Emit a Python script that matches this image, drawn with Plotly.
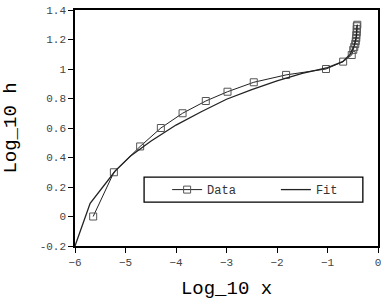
import plotly.graph_objects as go

data_x = [-5.64, -5.23, -4.71, -4.30, -3.87, -3.41, -2.98, -2.46, -1.82, -1.03, -0.69, -0.52, -0.49,
          -0.47, -0.45, -0.44, -0.43, -0.43, -0.42, -0.42, -0.42, -0.41]
data_y = [0.0, 0.30, 0.475, 0.60, 0.70, 0.783, 0.846, 0.91, 0.96, 1.0, 1.05, 1.095, 1.13,
          1.15, 1.17, 1.19, 1.21, 1.23, 1.25, 1.27, 1.29, 1.30]

fit_x = [-6.0, -5.7, -5.2, -4.9, -4.5, -4.0, -3.5, -3.0, -2.5, -2.0, -1.5, -1.0, -0.7, -0.55, -0.47, -0.43, -0.41]
fit_y = [-0.2, 0.09, 0.31, 0.41, 0.51, 0.62, 0.71, 0.795, 0.86, 0.92, 0.97, 1.01, 1.05, 1.10, 1.16, 1.22, 1.30]

x_ticks = [-6, -5, -4, -3, -2, -1, 0]
y_ticks = [-0.2, 0, 0.2, 0.4, 0.6, 0.8, 1, 1.2, 1.4]
y_tick_labels = ["-0.2", "0", "0.2", "0.4", "0.6", "0.8", "1", "1.2", "1.4"]

fig = go.Figure()
fig.add_trace(go.Scatter(x=data_x, y=data_y, mode="lines+markers", name="Data", legend="legend",
                         line=dict(color="#222", width=1),
                         marker=dict(symbol="square-open", size=7, color="#555", line=dict(width=1))))
fig.add_trace(go.Scatter(x=fit_x, y=fit_y, mode="lines", name="Fit", legend="legend2",
                         line=dict(color="#222", width=1.3)))

mono = "Liberation Mono, Courier New, monospace"
leg_font = dict(family=mono, size=12, color="#333")
fig.update_layout(
    width=383, height=300,
    margin=dict(l=75, r=5, t=10, b=54),
    paper_bgcolor="white", plot_bgcolor="white",
    font=dict(family=mono, color="#333", size=10),
    xaxis=dict(range=[-6, 0], tickvals=x_ticks, ticks="outside", ticklen=5, tickcolor="#000",
               showline=True, linecolor="#000", linewidth=1.5, mirror=True, showgrid=False, zeroline=False,
               automargin=False,
               tickfont=dict(family=mono, size=11, color="#444"),
               title=dict(text="Log_10 x", font=dict(family=mono, size=19, color="#000"), standoff=16)),
    yaxis=dict(range=[-0.2, 1.4], tickvals=y_ticks, ticktext=y_tick_labels, ticks="outside", ticklen=5,
               tickcolor="#000", showline=True, linecolor="#000", linewidth=1.5, mirror=True,
               showgrid=False, zeroline=False, automargin=False,
               tickfont=dict(family=mono, size=11, color="#444"),
               title=dict(text="Log_10 h", font=dict(family=mono, size=19, color="#000"), standoff=26)),
    legend=dict(orientation="h", x=0.304, y=0.239, xanchor="left", yanchor="middle", itemwidth=30,
                borderwidth=0, bgcolor="rgba(0,0,0,0)", font=leg_font),
    legend2=dict(orientation="h", x=0.663, y=0.239, xanchor="left", yanchor="middle", itemwidth=30,
                 borderwidth=0, bgcolor="rgba(0,0,0,0)", font=leg_font),
    shapes=[dict(type="rect", xref="paper", yref="paper", x0=0.228, x1=0.950, y0=0.186, y1=0.292,
                 line=dict(color="#000", width=1.3), fillcolor="white", layer="above")],
    showlegend=True,
)
fig.write_html("out.html", config={"displayModeBar": False},
               post_script="document.body.style.margin='0';document.body.style.overflow='hidden';")
